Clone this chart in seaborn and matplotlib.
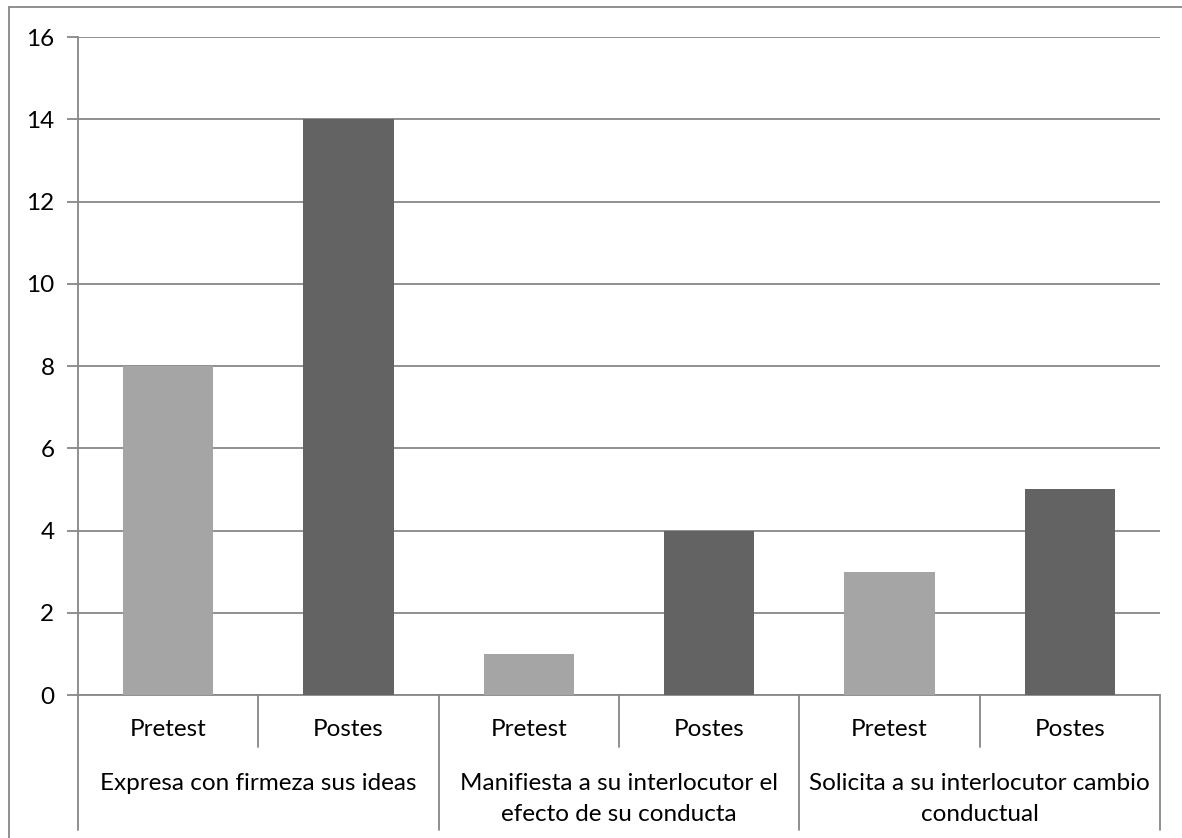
import matplotlib
matplotlib.use("Agg")
import matplotlib.pyplot as plt
import seaborn as sns
import pandas as pd
from matplotlib.lines import Line2D

groups = ["Expresa con firmeza sus ideas",
          "Manifiesta a su interlocutor el\nefecto de su conducta",
          "Solicita a su interlocutor cambio\nconductual"]
phases = ["Pretest", "Postes"]
pretest = [8, 1, 3]
postes = [14, 4, 5]

rows = []
for g, a, b in zip(groups, pretest, postes):
    rows.append({"slot": f"{g}|Pretest", "fase": "Pretest", "valor": a})
    rows.append({"slot": f"{g}|Postes", "fase": "Postes", "valor": b})
df = pd.DataFrame(rows)

sns.set_theme(style="white")
plt.rcParams["font.family"] = ["Lato", "DejaVu Sans"]

W, H = 1182, 838
fig = plt.figure(figsize=(W / 100, H / 100), dpi=100)
ax = fig.add_axes([78 / W, 1 - 695 / H, (1160 - 78) / W, (695 - 37) / H])

line_c = "#878787"
fs = 17.5
sns.barplot(data=df, x="slot", y="valor", hue="fase", order=list(df["slot"]),
            palette={"Pretest": "#a5a5a5", "Postes": "#636363"},
            dodge=False, width=0.5, legend=False, ax=ax, zorder=3,
            linewidth=0, edgecolor="none")

ax.set_xlim(-0.5, len(df) - 0.5)
ax.set_ylim(0, 16)
ax.set_yticks(range(0, 17, 2))
ax.yaxis.grid(True, color=line_c, linewidth=1.3, zorder=0)
ax.set_axisbelow(True)
ax.tick_params(axis="y", length=8, width=1.3, color=line_c, pad=9,
               labelsize=fs, labelcolor="black", left=True)
ax.set_xticks([])
ax.set_xlabel("")
ax.set_ylabel("")
for s in ["top", "right"]:
    ax.spines[s].set_visible(False)
for s in ["left", "bottom"]:
    ax.spines[s].set_color(line_c)
    ax.spines[s].set_linewidth(1.3)

tr = ax.get_xaxis_transform()
# two-level category axis
n = len(df)
for i in range(n + 1):
    x = i - 0.5
    bottom = -0.205 if i % 2 == 0 else -0.079
    ax.plot([x, x], [0, bottom], transform=tr, color=line_c, lw=1.3,
            clip_on=False)
for i, ph in enumerate(phases * len(groups)):
    ax.text(i, -0.053, ph, transform=tr, ha="center", va="center",
            fontsize=fs, color="black")
for j, g in enumerate(groups):
    ax.text(2 * j + 0.5, -0.118, g, transform=tr, ha="center", va="top",
            fontsize=fs, color="black", linespacing=1.6)

# outer chart frame
fig.add_artist(Line2D([9 / W, 9 / W], [0, 1 - 7 / H], transform=fig.transFigure,
                      color=line_c, lw=1.3))
fig.add_artist(Line2D([9 / W, 1], [1 - 7 / H, 1 - 7 / H], transform=fig.transFigure,
                      color=line_c, lw=1.3))

fig.savefig("out.png", dpi=100)
